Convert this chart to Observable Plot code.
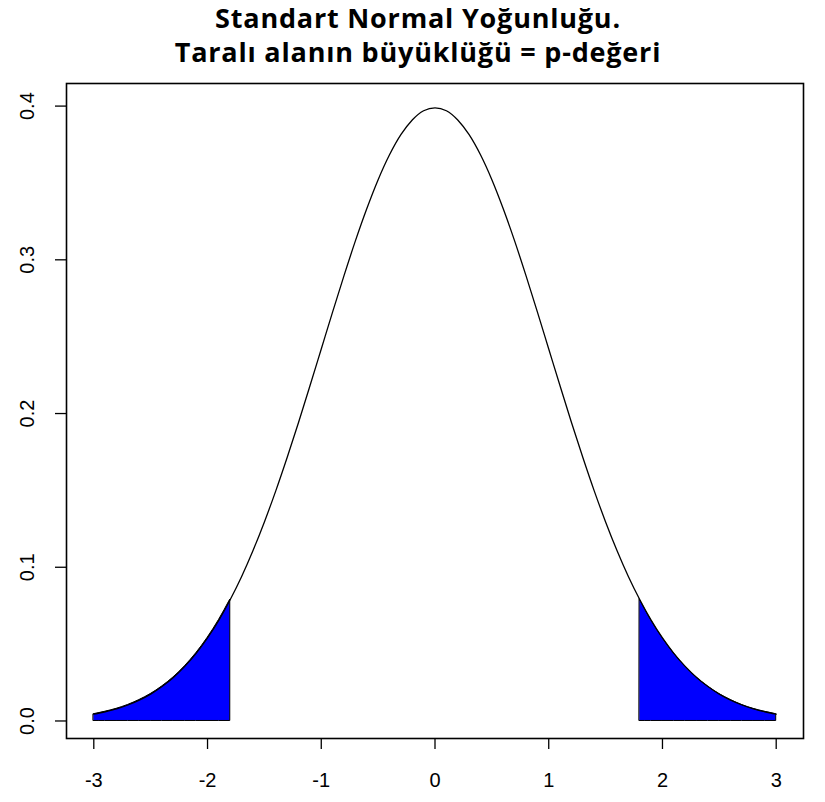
<!DOCTYPE html>
<html>
<head>
<meta charset="utf-8">
<script src="https://cdn.jsdelivr.net/npm/d3@7"></script>
<script src="https://cdn.jsdelivr.net/npm/@observablehq/plot@0.6"></script>
<style>
  body { margin: 0; background: #fff; }
  #title { height: 72px; padding-top: 1px; padding-left: 11px; width: 814px; text-align: center;
    font-family: "Open Sans", Lato, sans-serif; font-weight: 700; font-size: 27px; letter-spacing: 0.8px; line-height: 34px; color: #000; }
  svg { display: block; }
</style>
</head>
<body>
<div id="title">Standart Normal Yoğunluğu.<br>Taralı alanın büyüklüğü = p-değeri</div>
<div id="chart"></div>
<script>
// density curve values (standard normal density)
const xs = [-3.0,-2.9,-2.8,-2.7,-2.6,-2.5,-2.4,-2.3,-2.2,-2.1,-2.0,-1.9,-1.8,-1.7,-1.6,-1.5,-1.4,-1.3,-1.2,-1.1,-1.0,-0.9,-0.8,-0.7,-0.6,-0.5,-0.4,-0.3,-0.2,-0.1,0.0,0.1,0.2,0.3,0.4,0.5,0.6,0.7,0.8,0.9,1.0,1.1,1.2,1.3,1.4,1.5,1.6,1.7,1.8,1.9,2.0,2.1,2.2,2.3,2.4,2.5,2.6,2.7,2.8,2.9,3.0];
const ys = [0.0044,0.0060,0.0079,0.0104,0.0136,0.0175,0.0224,0.0283,0.0355,0.0440,0.0540,0.0656,0.0790,0.0940,0.1109,0.1295,0.1497,0.1714,0.1942,0.2179,0.2420,0.2661,0.2897,0.3123,0.3332,0.3521,0.3683,0.3814,0.3910,0.3970,0.3989,0.3970,0.3910,0.3814,0.3683,0.3521,0.3332,0.3123,0.2897,0.2661,0.2420,0.2179,0.1942,0.1714,0.1497,0.1295,0.1109,0.0940,0.0790,0.0656,0.0540,0.0440,0.0355,0.0283,0.0224,0.0175,0.0136,0.0104,0.0079,0.0060,0.0044];
const tailCut = 1.8;
const xTicks = [-3,-2,-1,0,1,2,3];
const yTicks = [0.0,0.1,0.2,0.3,0.4];

const curve = xs.map((x, i) => ({x, y: ys[i]}));
const leftTail = curve.filter(d => d.x <= -tailCut + 1e-9);
const rightTail = curve.filter(d => d.x >= tailCut - 1e-9);

const font = "'Liberation Sans', Arial, sans-serif";

const chart = Plot.plot({
  width: 825,
  height: 729,
  marginTop: 10,
  marginLeft: 66,
  marginRight: 22,
  marginBottom: 64,
  style: {fontFamily: font, fontSize: "20px", color: "#000", background: "#fff"},
  x: {domain: [-3.24, 3.24], label: null},
  y: {domain: [-0.0114, 0.4147], label: null},
  marks: [
    Plot.areaY(leftTail, {x: "x", y: "y", fill: "#0000ff", stroke: "#000", strokeWidth: 1, curve: "monotone-x"}),
    Plot.areaY(rightTail, {x: "x", y: "y", fill: "#0000ff", stroke: "#000", strokeWidth: 1, curve: "monotone-x"}),
    Plot.line(curve, {x: "x", y: "y", stroke: "#000", strokeWidth: 1.3, curve: "monotone-x"}),
    Plot.frame({stroke: "#000", strokeWidth: 1.6}),
    Plot.axisX({ticks: xTicks, tickSize: 11, tickPadding: 23, tickFormat: d => String(d), fontSize: 20, strokeWidth: 1.3}),
    Plot.axisY({ticks: yTicks, tickSize: 11, tickFormat: () => null, strokeWidth: 1.3}),
    Plot.text(yTicks, {y: d => d, text: d => d.toFixed(1), frameAnchor: "left", dx: -33, rotate: -90,
      textAnchor: "middle", lineAnchor: "bottom", fontSize: 20})
  ]
});
document.getElementById("chart").appendChild(chart);
</script>
</body>
</html>
